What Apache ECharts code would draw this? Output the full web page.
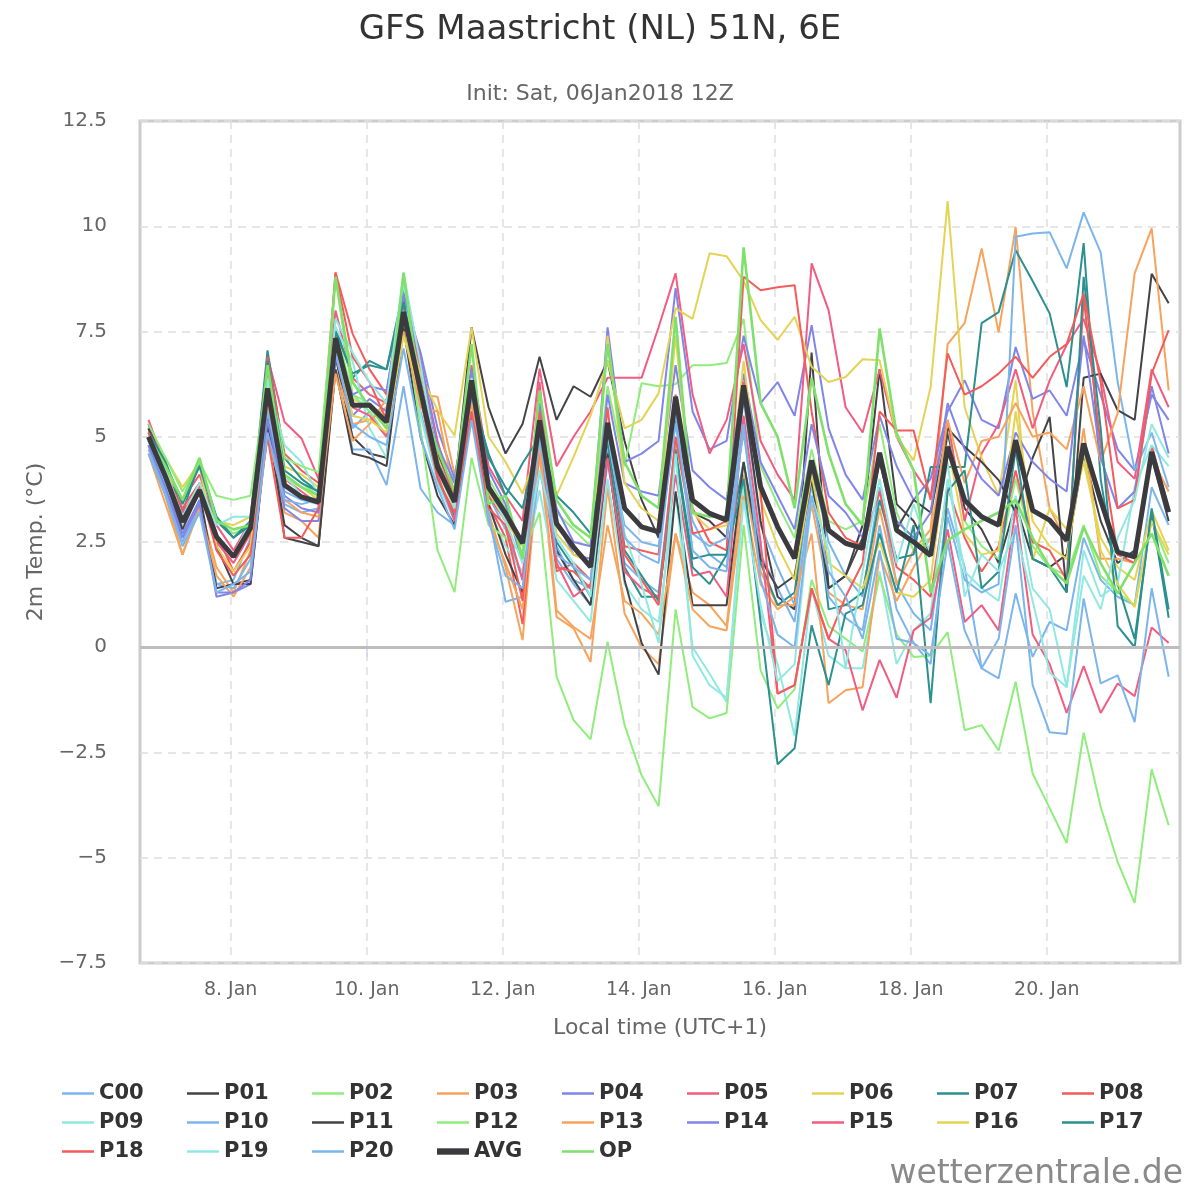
<!DOCTYPE html>
<html>
<head>
<meta charset="utf-8">
<script src="https://cdn.jsdelivr.net/npm/echarts@6/dist/echarts.min.js"></script>
<style>
  html, body { margin: 0; padding: 0; background: #fff; }
  #chart { width: 1200px; height: 1200px; }
</style>
</head>
<body>
<div id="chart"></div>
<script>
// 6-hourly steps, hours relative to 8 Jan 00:00 local time (UTC+1)
var firstHour = -29;
var stepHours = 6;
var dayTicks = [0, 48, 96, 144, 192, 240, 288];

// ensemble members, 2m temperature (°C)
var c00 = [4.8,3.8,2.6,3.5,1.5,1.6,2.6,5.9,3.4,3.2, 3.3,7.0,5.2,5.6,5.0,8.2,5.6,4.0,3.1,6.0, 3.6,2.8,1.6,4.9,2.1,1.5,1.0,4.4,2.0,1.6, 1.3,4.9,3.0,2.2,1.9,5.9,2.9,1.9,1.0,4.3, 2.5,1.7,1.2,3.8,1.5,0.8,0.4,3.3,1.9,-0.5, -0.74,1.28,-0.23,0.6,0.4,2.6,1.6,1.2,1.0,3.8, 2.9];
var p01 = [5.3,4.2,3.0,3.9,2.4,1.5,1.6,5.6,2.6,2.5, 2.4,6.9,5.0,4.6,4.5,8.3,6.3,4.6,3.7,7.6, 5.7,4.6,5.3,6.9,5.4,6.2,5.95,6.8,4.9,3.5, 2.6,5.5,3.2,3.0,2.6,6.0,3.0,1.2,0.9,7.0, 1.4,1.7,2.9,6.6,3.4,3.0,2.2,5.1,3.3,2.8, 2.0,3.4,2.1,1.9,2.2,4.6,3.0,2.0,2.3,4.5, 3.0];
var p02 = [5.1,4.3,3.4,4.4,3.0,2.7,2.9,6.4,4.2,3.9, 3.6,7.6,6.0,5.8,5.4,8.6,6.3,4.2,3.3,6.6, 4.0,3.3,2.2,5.7,3.2,2.8,2.4,6.2,4.3,6.27, 6.2,6.25,6.7,6.7,6.75,7.8,4.3,3.4,2.6,4.7, 3.0,2.8,3.0,5.3,3.2,2.3,2.6,5.3,3.0,2.4, 2.1,4.0,2.4,1.9,1.7,2.9,1.7,1.3,1.0,3.0, 2.0];
var p03 = [4.8,3.6,2.2,3.4,1.9,1.3,2.3,5.8,3.2,3.0, 2.6,6.6,5.3,5.4,5.7,7.8,6.0,5.95,4.1,5.9, 3.2,1.9,0.17,4.6,0.72,0.45,-0.35,3.8,0.8,0.0, -0.4,2.7,1.3,1.0,0.5,4.1,1.8,1.0,1.0,3.4, 1.3,1.0,0.9,3.3,1.5,2.3,2.8,7.2,7.7,9.47, 7.48,9.98,5.6,3.3,2.5,5.2,2.1,2.1,2.0,4.5, 3.7];
var p04 = [4.9,3.9,2.7,3.5,1.2,1.3,1.5,5.2,3.3,3.0, 3.0,6.9,5.5,5.9,5.6,8.3,7.0,5.2,4.0,6.5, 4.2,3.4,2.0,5.4,3.3,2.5,2.4,7.6,4.4,4.6, 4.9,8.53,5.6,4.7,4.9,7.4,5.8,6.3,5.5,7.65, 5.2,4.1,3.5,5.5,4.3,3.5,4.0,5.6,6.34,5.4, 5.2,7.13,5.9,6.1,5.5,7.3,6.0,4.7,4.2,6.0, 5.4];
var p05 = [5.4,4.3,3.5,4.1,2.9,2.3,3.0,6.9,5.35,4.96, 4.0,8.0,6.4,6.0,5.8,8.5,6.6,4.5,3.6,6.7, 4.3,3.6,3.0,6.62,4.3,5.0,5.6,6.4,6.4,6.4, 7.6,8.88,6.0,4.6,5.4,7.2,4.9,4.1,3.5,9.12, 8.0,5.7,5.1,6.6,5.0,4.2,3.6,5.4,3.0,4.6, 5.3,6.6,5.2,6.34,7.18,7.8,6.5,4.4,4.0,6.6, 5.7];
var p06 = [5.0,4.5,3.8,4.4,3.0,2.9,3.1,6.6,4.3,4.1, 3.8,7.1,5.9,5.7,5.5,7.7,6.5,5.63,5.03,7.6, 5.0,4.4,3.65,4.8,3.6,4.52,5.5,6.8,5.2,5.4, 6.03,8.05,7.8,9.36,9.29,8.7,7.77,7.3,7.85,6.66, 6.3,6.42,6.84,6.82,5.0,4.44,6.18,10.6,5.7,4.5, 3.6,6.34,2.07,3.3,2.8,4.4,2.6,1.9,1.6,3.25, 2.3];
var p07 = [5.1,4.4,3.2,4.4,3.1,2.6,3.0,7.05,4.5,4.0, 3.7,7.6,6.4,6.8,6.6,8.5,6.0,3.9,3.1,6.2, 4.5,3.8,3.3,5.0,2.5,1.9,1.2,4.7,1.9,1.2, 1.2,4.7,2.1,2.2,2.2,4.4,2.0,1.0,1.3,4.4, 0.9,1.0,1.3,3.5,2.1,2.2,4.28,4.28,4.28,7.7, 7.96,9.43,8.7,7.93,6.18,9.6,4.0,1.5,0.2,3.2, 0.7];
var p08 = [5.2,4.1,3.3,3.9,2.7,1.8,2.5,6.9,4.6,4.2, 3.9,8.9,7.45,6.6,6.0,8.7,6.8,4.9,3.5,5.47, 3.4,2.6,0.55,4.8,1.8,2.0,1.6,5.0,2.4,2.3, 2.2,6.0,3.3,2.5,2.3,8.8,8.48,8.55,8.6,5.6, 3.2,2.6,2.4,3.7,1.9,1.6,1.2,3.8,2.6,1.8, 2.4,4.2,2.5,2.3,1.6,8.3,4.8,2.2,2.0,4.8, 3.3];
var p09 = [4.9,3.9,2.9,3.7,2.6,2.2,3.0,6.3,4.8,4.4, 3.6,7.6,6.8,5.2,4.5,8.7,5.5,3.9,3.0,6.1, 3.3,2.4,1.8,3.73,1.6,1.1,0.6,4.0,1.5,0.9, 0.6,3.7,0.0,-0.63,-1.3,3.9,0.8,-0.4,-2.1,1.4, -0.2,-0.5,-0.5,1.8,-0.4,0.4,0.8,4.0,1.8,1.4, 1.1,3.6,1.4,0.9,-0.95,2.3,1.2,1.5,3.8,4.8, 4.3];
var p10 = [4.7,3.7,2.5,3.3,1.5,1.4,2.1,5.6,3.7,3.5, 3.4,6.6,4.7,4.7,3.85,6.2,3.77,3.2,2.9,5.9, 3.2,1.08,1.2,4.2,2.4,1.6,1.4,4.8,2.9,2.5, 2.4,5.3,2.7,2.4,2.6,5.1,2.2,1.4,0.6,3.9, 1.2,0.7,0.4,2.9,0.9,0.1,-0.4,3.1,1.6,1.3, 1.5,9.75,9.83,9.86,9.0,10.33,9.38,6.3,4.2,5.1, 3.8];
var p11 = [5.2,4.0,2.8,3.7,1.4,1.5,1.5,5.3,2.9,2.6, 2.4,6.6,4.6,4.5,4.3,7.6,5.0,3.6,2.9,5.6, 3.4,2.2,1.3,5.0,2.3,1.6,1.0,4.6,1.6,0.1, -0.65,3.7,1.0,1.0,1.0,4.4,2.1,1.4,1.7,4.0, 1.4,1.7,2.6,4.4,2.8,3.5,3.2,5.2,4.76,4.4, 3.97,3.2,4.5,5.47,1.3,6.4,6.5,5.63,5.4,8.87, 8.17];
var p12 = [5.3,4.5,3.7,4.4,3.6,3.5,3.6,6.5,4.5,4.3, 4.16,8.8,6.0,5.6,5.0,8.0,5.2,2.3,1.31,4.5, 2.9,2.6,2.2,3.2,-0.7,-1.73,-2.19,0.13,-1.85,-3.04, -3.78,0.9,-1.42,-1.69,-1.56,2.9,-0.55,-1.45,-1.0,1.6, 0.5,0.2,-0.1,1.7,0.3,-0.23,-0.2,0.36,-1.97,-1.85, -2.45,-0.82,-3.0,-3.82,-4.65,-2.03,-3.79,-5.1,-6.07,-2.9, -4.23];
var p13 = [4.6,3.4,2.2,3.3,1.7,1.2,1.9,5.0,3.5,3.2, 3.1,6.5,4.9,5.3,5.9,7.5,5.7,5.6,3.6,5.8, 3.0,2.0,0.9,4.84,0.88,0.48,0.2,2.9,1.1,0.8, 0.3,2.7,0.9,0.5,0.4,3.6,1.5,0.9,1.2,2.7, -1.33,-1.02,-0.95,2.2,1.1,1.9,2.6,5.4,3.9,4.9, 5.0,5.8,5.0,5.1,4.7,6.2,4.4,5.56,8.88,9.95, 6.1];
var p14 = [4.8,3.8,2.6,3.4,1.3,1.3,1.6,5.4,3.6,3.3, 3.2,7.1,6.0,6.2,6.1,8.4,6.8,4.8,3.9,6.6, 3.9,3.0,2.5,5.8,3.0,2.2,2.1,6.0,3.9,3.7, 3.6,6.7,4.2,3.8,3.5,6.5,4.4,3.6,2.8,5.3, 3.6,3.2,2.6,4.6,3.0,2.6,3.2,5.8,4.7,4.0, 3.6,5.1,4.4,4.0,3.7,7.4,4.5,3.3,3.7,6.2, 4.6];
var p15 = [5.0,4.0,3.2,3.8,2.5,2.0,2.7,6.6,4.0,3.7, 3.4,7.5,5.7,5.5,5.0,8.0,5.9,4.1,3.0,6.1, 3.6,3.0,1.6,6.3,2.0,1.2,1.5,4.5,1.8,1.4, 1.2,4.1,1.7,1.8,1.2,5.5,2.5,-1.1,-0.9,1.4, 0.2,-0.07,-1.5,-0.3,-1.2,0.4,0.7,2.8,0.6,1.0, 0.4,3.3,0.3,-0.4,-1.56,-0.45,-1.56,-0.86,-1.16,0.47, 0.1];
var p16 = [4.9,4.2,3.5,4.3,2.4,1.8,2.4,6.0,4.0,3.8, 3.5,7.2,5.5,5.4,5.1,7.4,6.0,4.5,3.4,6.3, 3.7,3.0,2.4,5.2,2.7,2.2,2.0,7.4,3.9,3.3, 3.0,7.4,3.2,2.8,2.9,6.8,3.5,2.4,1.6,4.1, 2.0,1.7,1.4,2.5,1.3,1.2,1.6,4.8,2.7,2.2, 2.3,5.6,3.0,2.4,2.1,4.7,2.3,1.5,0.95,3.0, 2.2];
var p17 = [5.1,4.4,3.4,4.3,3.0,2.6,2.9,6.8,4.2,3.9, 3.7,7.5,6.5,6.7,6.6,8.2,6.2,4.4,3.5,6.0, 4.6,3.6,4.37,5.0,3.6,3.2,2.7,4.9,2.3,1.7, 1.1,4.6,1.9,1.5,2.2,4.0,0.6,-2.78,-2.4,0.52, -0.9,0.8,1.0,2.7,1.3,2.9,-1.33,3.7,4.2,1.4, 1.8,4.7,2.1,1.9,1.3,8.8,5.2,0.5,0.0,3.3, 0.9];
var p18 = [5.1,4.0,3.1,3.8,2.3,1.7,2.2,5.0,2.6,2.6, 3.3,8.9,6.9,6.3,5.4,7.9,5.9,4.0,3.2,5.6, 3.3,2.9,1.1,5.6,1.9,1.8,1.4,5.7,2.2,1.6, 1.0,5.0,2.7,2.8,3.0,6.3,3.7,-1.1,-0.9,1.4, 0.2,1.2,2.0,5.6,5.15,5.15,3.5,6.98,6.0,6.2, 6.5,6.9,6.4,6.9,7.2,8.4,6.3,3.3,3.5,6.5, 7.53];
var p19 = [5.0,4.2,3.1,3.9,2.9,3.1,3.1,6.4,4.1,3.6, 3.5,7.8,7.0,6.3,5.8,8.9,6.7,4.3,3.3,6.4, 3.8,3.0,2.0,4.2,2.6,2.0,1.2,5.1,2.7,1.5, 0.1,4.6,-0.2,-0.9,-1.2,3.5,1.0,-0.8,-0.4,3.6, 2.3,-0.5,1.8,4.0,2.0,3.4,2.2,4.4,1.2,2.2, 1.8,2.8,1.1,-0.6,-0.95,1.7,0.9,2.6,3.5,5.3, 4.5];
var p20 = [4.6,3.6,2.4,3.2,1.3,1.5,1.8,5.1,3.5,3.4, 3.5,7.0,5.3,5.0,4.8,7.1,5.0,3.8,2.8,5.4, 3.0,1.7,1.4,5.0,2.2,1.9,1.6,5.2,2.6,2.2, 2.0,5.6,2.3,1.9,1.8,5.3,1.6,0.3,0.0,3.6, 1.8,1.2,0.2,2.3,0.2,0.1,-0.2,2.5,0.4,-0.5, 0.2,2.9,-0.9,-2.02,-2.06,1.16,-0.86,-0.67,-1.78,1.4, -0.7];
var avg = [5.0,4.05,2.98,3.73,2.62,2.15,2.83,6.15,3.85,3.57, 3.45,7.34,5.75,5.75,5.35,7.96,6.1,4.28,3.45,6.34, 3.8,3.18,2.47,5.39,2.94,2.38,1.91,5.33,3.3,2.86, 2.74,5.95,3.49,3.18,3.02,6.22,3.81,2.86,2.11,4.44, 2.78,2.47,2.35,4.62,2.78,2.5,2.18,4.76,3.49,3.1, 2.9,4.92,3.25,3.02,2.54,4.84,3.49,2.26,2.15,4.64, 3.21];
var op = [5.0,4.3,3.5,4.5,3.0,2.8,2.9,6.7,4.1,3.8, 3.6,8.8,6.3,5.7,5.2,8.9,5.9,4.7,3.7,7.2, 3.4,3.6,2.1,6.1,3.5,2.9,2.6,7.2,4.4,3.6, 3.3,7.85,3.2,3.1,3.1,9.5,5.8,5.0,3.3,6.4, 4.6,3.4,2.9,7.57,5.08,4.2,1.3,2.54,2.8,3.0, 3.2,3.5,2.6,1.9,1.52,2.85,2.0,1.28,2.0,2.7, 1.7];

var names = ['C00','P01','P02','P03','P04','P05','P06','P07','P08','P09','P10',
             'P11','P12','P13','P14','P15','P16','P17','P18','P19','P20','AVG','OP'];
var values = [c00,p01,p02,p03,p04,p05,p06,p07,p08,p09,p10,
              p11,p12,p13,p14,p15,p16,p17,p18,p19,p20,avg,op];
var colors = ['#7cb5ec','#434348','#90ed7d','#f7a35c','#8085e9','#f15c80','#e4d354','#2b908f','#f45b5b','#91e8e1',
              '#7cb5ec','#434348','#90ed7d','#f7a35c','#8085e9','#f15c80','#e4d354','#2b908f','#f45b5b','#91e8e1',
              '#7cb5ec','#3a3a3f','#7fe06c'];

var FONT = 'DejaVu Sans';

// legend icons: thin line for members, thick bar for the average
var thinIcon = 'path://M0,0L0.01,0M0,7L0.01,7M0,2.2L32,2.2L32,4.8L0,4.8Z';
var thickIcon = 'path://M0,0.3L32,0.3L32,6.7L0,6.7Z';

var series = names.map(function (name, k) {
    var isAvg = name === 'AVG';
    var isOp = name === 'OP';
    return {
        name: name,
        type: 'line',
        symbol: 'none',
        z: isAvg ? 5 : (isOp ? 4 : 3),
        lineStyle: { color: colors[k], width: isAvg ? 5 : (isOp ? 2.6 : 2) },
        itemStyle: { color: colors[k], borderWidth: 0 },
        data: values[k].map(function (v, i) { return [firstHour + i * stepHours, v]; })
    };
});

// grey zero line
series.push({
    name: 'zero',
    type: 'line',
    data: [],
    z: 2,
    markLine: {
        silent: true,
        symbol: 'none',
        label: { show: false },
        lineStyle: { color: '#bdbdbd', width: 3, type: 'solid' },
        data: [{ yAxis: 0 }]
    }
});

var chart = echarts.init(document.getElementById('chart'));
chart.setOption({
    animation: false,
    backgroundColor: '#fff',
    textStyle: { fontFamily: FONT },
    title: [{
        text: 'GFS Maastricht (NL) 51N, 6E',
        left: 'center', top: 8,
        textStyle: { fontFamily: FONT, fontSize: 34, fontWeight: 'normal', color: '#333' }
    }, {
        text: 'Init: Sat, 06Jan2018 12Z',
        left: 'center', top: 78,
        textStyle: { fontFamily: FONT, fontSize: 22, fontWeight: 'normal', color: '#666' }
    }],
    grid: {
        left: 140, right: 20, top: 121, bottom: 237,
        show: true, borderColor: '#cccccc', borderWidth: 3, backgroundColor: '#fff'
    },
    legend: {
        data: names.map(function (n) {
            return { name: n, icon: n === 'AVG' ? thickIcon : thinIcon };
        }),
        left: 57, top: 1078, width: 1130,
        itemWidth: 32, itemHeight: 7, itemGap: 8,
        itemStyle: { borderWidth: 0 },
        textStyle: { fontFamily: FONT, fontSize: 21, fontWeight: 'bold', color: '#333', width: 80, lineHeight: 20 }
    },
    xAxis: {
        type: 'value',
        min: -32, max: 335,
        name: 'Local time (UTC+1)',
        nameLocation: 'middle', nameGap: 54,
        nameTextStyle: { fontFamily: FONT, fontSize: 22, color: '#666' },
        axisLine: { show: true, lineStyle: { color: '#ccd6eb', width: 2 } },
        axisTick: { show: true, length: 10, customValues: dayTicks, lineStyle: { color: '#ccd6eb', width: 1.5 } },
        axisLabel: {
            customValues: dayTicks, margin: 18,
            fontFamily: FONT, fontSize: 19, color: '#666',
            formatter: function (v) { return (8 + Math.round(v / 24)) + '. Jan'; }
        },
        splitLine: { show: true, lineStyle: { color: '#dedede', width: 1.5, type: [8, 6] } }
    },
    yAxis: {
        type: 'value',
        min: -7.5, max: 12.5, interval: 2.5,
        name: '2m Temp. (°C)',
        nameLocation: 'middle', nameGap: 90,
        nameTextStyle: { fontFamily: FONT, fontSize: 22, color: '#666' },
        axisLine: { show: false },
        axisTick: { show: false },
        axisLabel: {
            margin: 33, fontFamily: FONT, fontSize: 20, color: '#666',
            formatter: function (v) { return String(v).replace('-', '\u2212'); }
        },
        splitLine: { show: true, lineStyle: { color: '#dedede', width: 1.5, type: [8, 6] } }
    },
    graphic: [{
        type: 'text',
        right: 17, top: 1158,
        style: { text: 'wetterzentrale.de', font: '33px "DejaVu Sans"', fill: '#8a8a8a' }
    }],
    series: series
});
</script>
</body>
</html>
